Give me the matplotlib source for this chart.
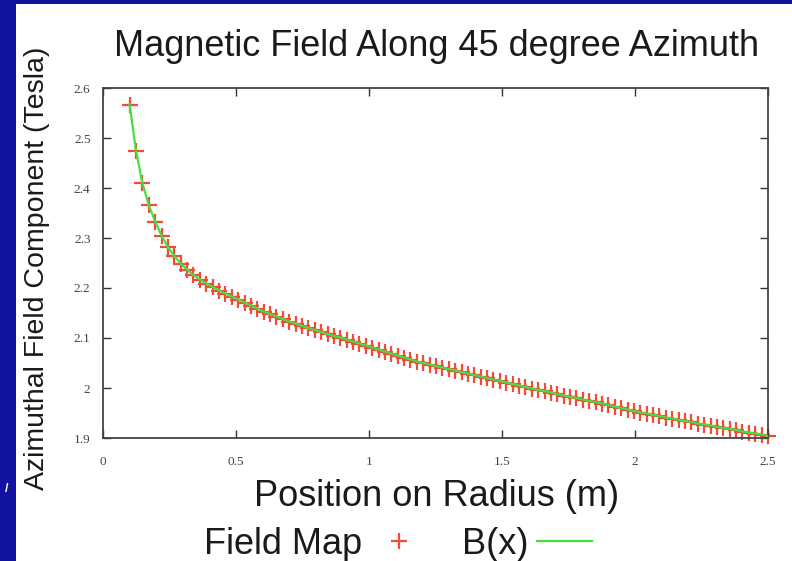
import numpy as np
import matplotlib
matplotlib.use("Agg")
import matplotlib.pyplot as plt
from matplotlib.patches import Rectangle

# field map samples
radius = [0.100, 0.124, 0.148, 0.172, 0.196, 0.220, 0.244, 0.268, 0.292, 0.316,
          0.340, 0.364, 0.388, 0.412, 0.436, 0.460, 0.484, 0.508, 0.532, 0.556,
          0.580, 0.604, 0.628, 0.652, 0.676, 0.700, 0.724, 0.748, 0.772, 0.796,
          0.820, 0.844, 0.868, 0.892, 0.916, 0.940, 0.964, 0.988, 1.012, 1.036,
          1.060, 1.084, 1.108, 1.132, 1.156, 1.180, 1.204, 1.228, 1.252, 1.276,
          1.300, 1.324, 1.348, 1.372, 1.396, 1.420, 1.444, 1.468, 1.492, 1.516,
          1.540, 1.564, 1.588, 1.612, 1.636, 1.660, 1.684, 1.708, 1.732, 1.756,
          1.780, 1.804, 1.828, 1.852, 1.876, 1.900, 1.924, 1.948, 1.972, 1.996,
          2.020, 2.044, 2.068, 2.092, 2.116, 2.140, 2.164, 2.188, 2.212, 2.236,
          2.260, 2.284, 2.308, 2.332, 2.356, 2.380, 2.404, 2.428, 2.452, 2.476,
          2.500]
field = [2.567, 2.475, 2.410, 2.366, 2.333, 2.305, 2.282, 2.264, 2.249, 2.237,
         2.226, 2.217, 2.209, 2.202, 2.195, 2.189, 2.183, 2.177, 2.171, 2.165,
         2.159, 2.153, 2.148, 2.143, 2.138, 2.133, 2.129, 2.124, 2.120, 2.116,
         2.112, 2.108, 2.104, 2.101, 2.097, 2.093, 2.089, 2.085, 2.081, 2.077,
         2.073, 2.069, 2.065, 2.061, 2.057, 2.053, 2.050, 2.047, 2.044, 2.041,
         2.038, 2.035, 2.032, 2.029, 2.026, 2.023, 2.020, 2.017, 2.014, 2.011,
         2.008, 2.005, 2.002, 1.999, 1.996, 1.994, 1.991, 1.988, 1.985, 1.982,
         1.980, 1.977, 1.974, 1.972, 1.969, 1.966, 1.963, 1.960, 1.957, 1.954,
         1.951, 1.949, 1.946, 1.944, 1.941, 1.939, 1.936, 1.934, 1.932, 1.929,
         1.927, 1.925, 1.922, 1.920, 1.918, 1.916, 1.913, 1.911, 1.909, 1.907,
         1.904]

xticks = [0, 0.5, 1, 1.5, 2, 2.5]
xticklabels = ["0", "0.5", "1", "1.5", "2", "2.5"]
yticks = [1.9, 2.0, 2.1, 2.2, 2.3, 2.4, 2.5, 2.6]
yticklabels = ["1.9", "2", "2.1", "2.2", "2.3", "2.4", "2.5", "2.6"]

sans = "Liberation Sans"
serif = "Liberation Serif"

fig = plt.figure(figsize=(7.92, 5.61), dpi=100, facecolor="#1212a0")
# white slide area
fig.patches.append(Rectangle((16 / 792, 0), 1, 1 - 4 / 561, transform=fig.transFigure,
                             facecolor="white", edgecolor="none", zorder=-10))
fig.text(7 / 792, 1 - 489 / 561, "/", color="white", fontsize=9, fontweight="bold",
         ha="center", va="center", family=sans)

ax = fig.add_axes([103 / 792, 1 - 438 / 561, 665 / 792, 350 / 561])
ax.set_facecolor("white")

ax.plot(radius, field, linestyle="none", marker="+", markersize=12,
        markeredgewidth=1.6, color="#f44a36", label="Field Map", zorder=2,
        clip_on=False)
ax.plot(radius, field, color="#44e040", linewidth=1.6, label="B(x)", zorder=3)

ax.set_xlim(0, 2.5)
ax.set_ylim(1.9, 2.6)
ax.set_xticks(xticks)
ax.set_xticklabels(xticklabels)
ax.set_yticks(yticks)
ax.set_yticklabels(yticklabels)
ax.tick_params(direction="in", length=6, width=1, color="#333333",
               top=True, right=True, labelsize=9.5, labelcolor="#444444")
ax.tick_params(axis="x", pad=13)
ax.tick_params(axis="y", pad=9)
for lab in ax.get_xticklabels() + ax.get_yticklabels():
    lab.set_family(serif)
for sp in ax.spines.values():
    sp.set_color("#444444")
    sp.set_linewidth(1.3)

fig.text(437 / 792, 1 - 47 / 561, "Magnetic Field Along 45 degree Azimuth",
         ha="center", va="center", fontsize=26, family=sans, color="#1a1a1a")
fig.text(437 / 792, 1 - 497 / 561, "Position on Radius (m)",
         ha="center", va="center", fontsize=26, family=sans, color="#1a1a1a")
fig.text(37 / 792, 1 - 268 / 561, "Azimuthal Field Component (Tesla)",
         ha="center", va="center", rotation=90, fontsize=20.5, family=sans,
         color="#1a1a1a")

fig.legend(loc="center", bbox_to_anchor=(398 / 792, 1 - 544 / 561), ncol=2,
           frameon=False, markerfirst=False, handlelength=1.5, handletextpad=0.25,
           columnspacing=1.0, borderpad=0, prop={"family": sans, "size": 26},
           labelcolor="#1a1a1a")

fig.savefig("out.png", dpi=100, facecolor=fig.get_facecolor())
